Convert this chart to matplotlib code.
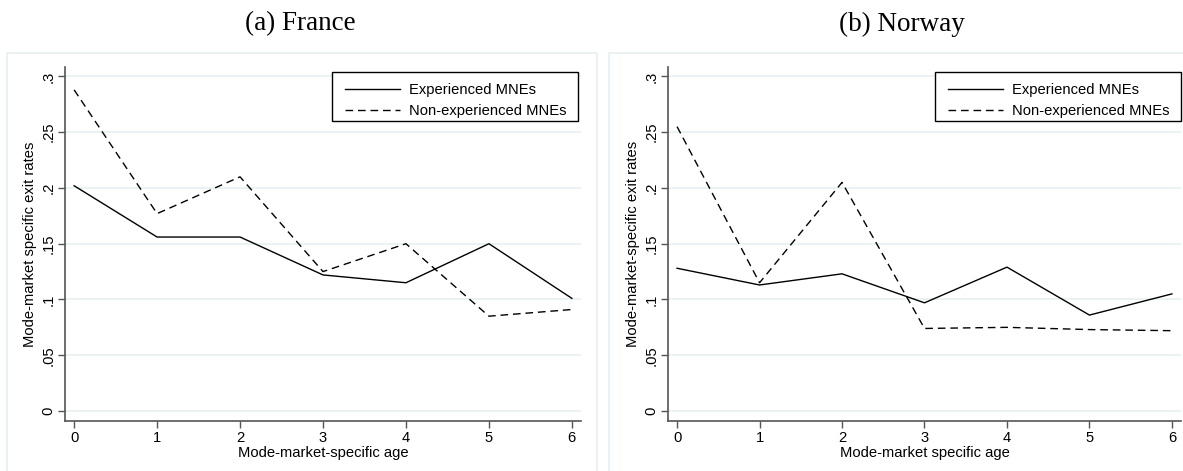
import numpy as np
import matplotlib
matplotlib.use('Agg')
import matplotlib.pyplot as plt
from matplotlib.patches import Rectangle

plt.rcParams['font.family'] = ['Liberation Sans', 'DejaVu Sans']

# mode-market specific age (years)
ages = [0, 1, 2, 3, 4, 5, 6]

# exit rates, France
france_exp = [0.202, 0.156, 0.156, 0.122, 0.115, 0.150, 0.101]
france_nonexp = [0.288, 0.177, 0.210, 0.125, 0.150, 0.085, 0.091]

# exit rates, Norway
norway_exp = [0.128, 0.113, 0.123, 0.097, 0.129, 0.086, 0.105]
norway_nonexp = [0.255, 0.115, 0.205, 0.074, 0.075, 0.073, 0.072]

yticks = [0, 0.05, 0.1, 0.15, 0.2, 0.25, 0.3]
ytick_labels = ['0', '.05', '.1', '.15', '.2', '.25', '.3']
series_labels = ['Experienced MNEs', 'Non-experienced MNEs']

panels = [
    dict(title='(a) France', exp=france_exp, nonexp=france_nonexp,
         ylabel='Mode-market specific exit rates',
         xlabel='Mode-market-specific age'),
    dict(title='(b) Norway', exp=norway_exp, nonexp=norway_nonexp,
         ylabel='Mode-market-specific exit rates',
         xlabel='Mode-market specific age'),
]

W, H = 1183, 471
fig = plt.figure(figsize=(W / 100, H / 100), dpi=100)

grid_col = '#e6eff0'
axis_col = '#555555'
fs = 10.6

# pixel layout of each panel: (frame left, frame right, axes left, axes right, title center)
layout = [(7, 597, 65, 581, 300), (609, 1190, 668, 1181, 902)]
ax_bottom, ax_top = 421, 67

for p, (fl, fr, al, ar, tc) in zip(panels, layout):
    # light outer frame of the graph region
    fig.patches.append(Rectangle((fl / W, -0.05), (fr - fl) / W, 1.05 - 53 / H,
                                 transform=fig.transFigure, fill=False,
                                 edgecolor=grid_col, linewidth=1.2, zorder=-1))
    fig.text(tc / W, 1 - 24 / H, p['title'], ha='center', va='center',
             fontsize=19.5, family=['Liberation Serif', 'DejaVu Serif'])

    ax = fig.add_axes([al / W, 1 - ax_bottom / H, (ar - al) / W, (ax_bottom - ax_top) / H])
    ax.plot(ages, p['exp'], color='black', lw=1.0, label=series_labels[0])
    ax.plot(ages, p['nonexp'], color='black', lw=1.0, dashes=(5.5, 3.5),
            label=series_labels[1])

    ax.set_xlim(-0.11, 6.11)
    ax.set_ylim(-0.009, 0.3085)
    ax.set_xticks(ages)
    ax.set_yticks(yticks)
    ax.set_yticklabels(ytick_labels, rotation=90, va='center')
    ax.yaxis.grid(True, color=grid_col, lw=1.1)
    ax.set_axisbelow(True)
    for s in ['top', 'right']:
        ax.spines[s].set_visible(False)
    for s in ['left', 'bottom']:
        ax.spines[s].set_color(axis_col)
        ax.spines[s].set_linewidth(1.2)
    ax.tick_params(length=5, width=1, color=axis_col, labelsize=fs, pad=2)
    ax.set_xlabel(p['xlabel'], fontsize=fs, labelpad=1)
    ax.set_ylabel(p['ylabel'], fontsize=fs, labelpad=3)

    # legend box: inside the plot region, top right
    box_l, box_r, box_t, box_b = al + 267, al + 513, 72, 121
    ax.add_patch(Rectangle((box_l / W, 1 - box_b / H), (box_r - box_l) / W,
                           (box_b - box_t) / H, transform=fig.transFigure,
                           facecolor='white', edgecolor='black',
                           linewidth=1.0, zorder=5, clip_on=False))
    leg = ax.legend(loc='upper left', fontsize=fs, handlelength=3.7,
                    handletextpad=0.6, frameon=False, borderpad=0,
                    labelspacing=0.45,
                    bbox_to_anchor=((box_l + 6) / W, 1 - (box_t + 4) / H),
                    bbox_transform=fig.transFigure)
    leg.set_zorder(6)

fig.savefig('out.png', dpi=100)
